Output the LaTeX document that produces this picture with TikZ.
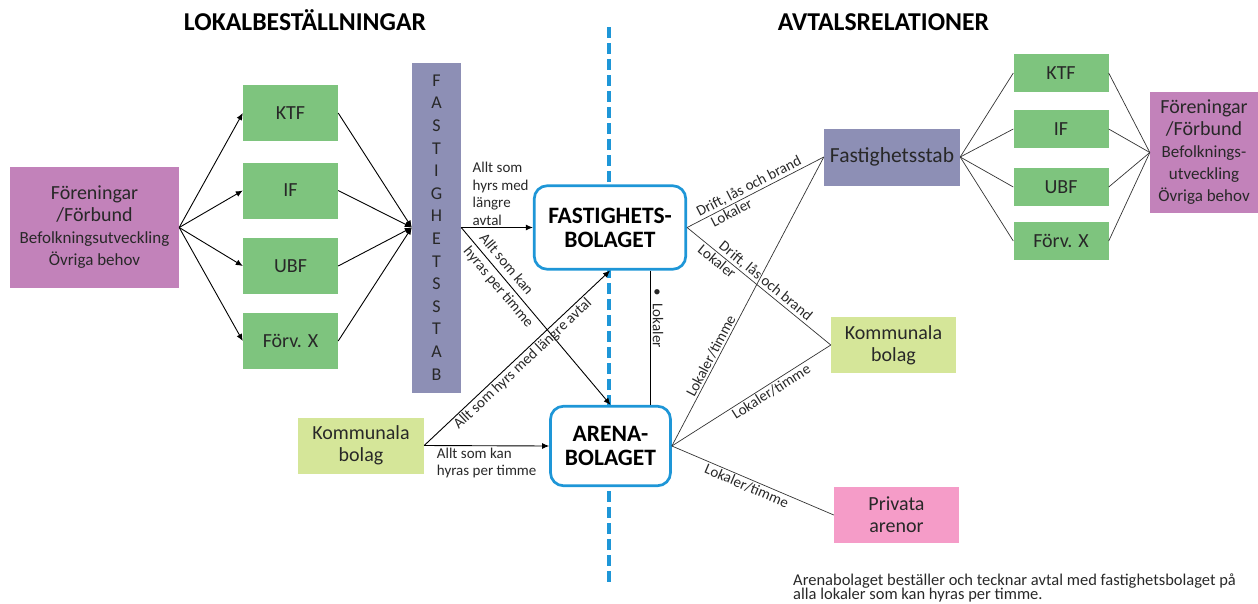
\documentclass[tikz,border=0pt]{standalone}
\usepackage{fontspec}
\setmainfont{Carlito}
\usetikzlibrary{arrows.meta,positioning}
\definecolor{lila}{RGB}{194,130,186}
\definecolor{gron}{RGB}{126,196,126}
\definecolor{stabgra}{RGB}{141,143,181}
\definecolor{ljusgron}{RGB}{213,230,153}
\definecolor{rosa}{RGB}{245,156,200}
\definecolor{linjebla}{RGB}{30,150,215}
\definecolor{text}{RGB}{40,40,40}

\begin{document}
\begin{tikzpicture}[x=1pt,y=-1pt,
	boxnode/.style={inner sep=0pt, align=center, text=text, font=\fontsize{20}{22}\selectfont},
	lilanode/.style={boxnode, fill=lila},
	gronnode/.style={boxnode, fill=gron, minimum width=95pt, minimum height=56pt},
	smagron/.style={boxnode, fill=gron, minimum width=95pt, minimum height=38pt},
	stabnode/.style={boxnode, fill=stabgra},
	kommnode/.style={boxnode, fill=ljusgron, minimum width=126pt, minimum height=56pt},
	bolagnode/.style={draw=linjebla, line width=2.7pt, fill=white, rounded corners=13pt, inner sep=0pt, align=center, font=\bfseries\fontsize{23.5}{24}\selectfont},
	titel/.style={inner sep=0pt, anchor=base, font=\bfseries\fontsize{25.7}{28}\selectfont},
	pil/.style={-{Latex[length=7pt,width=6pt]}, line width=0.9pt},
	tunn/.style={line width=0.7pt, draw=black!80},
	lbl/.style={inner sep=1.5pt, text=text, font=\fontsize{15}{17.7}\selectfont},
	]
	\useasboundingbox (0,0) rectangle (1258,603);

	%Rubriker
	\node[titel] (vanster) at (305,30) {LOKALBESTÄLLNINGAR};
	\node[titel] (hoger)   at (883.5,30) {AVTALSRELATIONER};

	%Delning
	\coordinate (delatop) at (609,27);
	\coordinate (delabot) at (609,583);
	\draw[linjebla, line width=4pt, dash pattern=on 11pt off 5pt] (delatop) -- (delabot);

	%Nodes vanster
	\node[lilanode, minimum width=169pt, minimum height=121pt] (foren) at (94.5,227.5)
		{Föreningar\\/Förbund\\{\fontsize{17}{19}\selectfont Befolkningsutveckling}\\{\fontsize{17}{19}\selectfont Övriga behov}};
	\node[gronnode] (ktf)  at (290.5,113) {KTF};
	\node[gronnode] (if)   at (290.5,190.5) {IF};
	\node[gronnode] (ubf)  at (290.5,266) {UBF};
	\node[gronnode] (forv) at (290.5,341) {Förv. X};
	\node[stabnode, minimum width=49pt, minimum height=330pt, font=\fontsize{18}{22.6}\selectfont] (stab) at (436.5,227.5)
		{F\\A\\S\\T\\I\\G\\H\\E\\T\\S\\S\\T\\A\\B};
	\node[kommnode] (komm) at (361,445.5) {Kommunala\\bolag};
	\node[bolagnode, minimum width=151.5pt, minimum height=83.5pt] (fb) at (610,227.5) {FASTIGHETS-\\BOLAGET};
	\node[bolagnode, minimum width=120pt, minimum height=79.5pt] (arena) at (610.5,446) {ARENA-\\BOLAGET};

	%Nodes hoger
	\node[stabnode, minimum width=136pt, minimum height=57pt, font=\fontsize{21.5}{24}\selectfont] (fstab) at (892,157) {Fastighetsstab};
	\node[kommnode, minimum width=125pt] (komm2) at (893.5,345) {Kommunala\\bolag};
	\node[boxnode, fill=rosa, minimum width=125pt, minimum height=56pt] (privat) at (896.5,515) {Privata\\arenor};
	\node[smagron] (ktf2)  at (1061,73) {KTF};
	\node[smagron] (if2)   at (1061,129) {IF};
	\node[smagron] (ubf2)  at (1061,187) {UBF};
	\node[smagron] (forv2) at (1061,241) {Förv. X};
	\node[lilanode, minimum width=108pt, minimum height=121pt] (foren2) at (1204,152.5)
		{Föreningar\\/Förbund\\{\fontsize{17}{19}\selectfont Befolknings-}\\{\fontsize{17}{19}\selectfont utveckling}\\{\fontsize{17}{19}\selectfont Övriga behov}};

	%Lines vanster
	\draw[pil] (foren.east) -- (ktf.west);
	\draw[pil] (foren.east) -- (if.west);
	\draw[pil] (foren.east) -- (ubf.west);
	\draw[pil] (foren.east) -- (forv.west);
	\draw[pil] (ktf.east) -- (stab.west);
	\draw[pil] (if.east) -- (stab.west);
	\draw[pil] (ubf.east) -- (stab.west);
	\draw[pil] (forv.east) -- (stab.west);
	\draw[pil] (stab.east) -- node[lbl, above, align=left, pos=0.55] {Allt som\\hyrs med\\längre\\avtal} (fb.west);
	\draw[pil] (stab.east) -- node[lbl, sloped, align=left, pos=0.3] {Allt som kan\\[3pt]hyras per timme} (arena.north);
	\draw[pil] (komm.east) -- node[lbl, sloped, below, pos=0.5] {Allt som hyrs med längre avtal} (fb.south);
	\draw[pil] (komm.east) -- node[lbl, below, align=left, pos=0.5] {Allt som kan\\hyras per timme} (arena.west);
	\draw[line width=0.9pt] ([xshift=40pt]fb.south) -- ([xshift=40pt]fb.south |- arena.north);
	\node[lbl, rotate=-90] (lokaltext) at (658,318) {\textbullet\hspace{8pt}Lokaler};

	%Lines hoger
	\draw[tunn] (fb.east) -- node[lbl, sloped, above, pos=0.48] {Drift, lås och brand}
		node[lbl, sloped, below, pos=0.3] {Lokaler} (fstab.west);
	\draw[tunn] (fb.east) -- node[lbl, sloped, above, pos=0.51] {Drift, lås och brand}
		node[lbl, sloped, below, pos=0.24] {Lokaler} (komm2.west);
	\draw[tunn] (arena.east) -- node[lbl, sloped, above, pos=0.3] {Lokaler/timme} (fstab.west);
	\draw[tunn] (arena.east) -- node[lbl, sloped, below, pos=0.6] {Lokaler/timme} (komm2.west);
	\draw[tunn] (arena.east) -- node[lbl, sloped, below, pos=0.48] {Lokaler/timme} (privat.west);
	\draw[tunn] (fstab.east) -- (ktf2.west);
	\draw[tunn] (fstab.east) -- (if2.west);
	\draw[tunn] (fstab.east) -- (ubf2.west);
	\draw[tunn] (fstab.east) -- (forv2.west);
	\draw[tunn] (ktf2.east) -- (foren2.west);
	\draw[tunn] (if2.east) -- (foren2.west);
	\draw[tunn] (ubf2.east) -- (foren2.west);
	\draw[tunn] (forv2.east) -- (foren2.west);

	%Not
	\node[inner sep=0pt, anchor=base west, align=left, text=text, font=\fontsize{16.5}{15}\selectfont] (not) at (793,599)
		{Arenabolaget beställer och tecknar avtal med fastighetsbolaget på\\[-1pt]alla lokaler som kan hyras per timme.};
\end{tikzpicture}
\end{document}
